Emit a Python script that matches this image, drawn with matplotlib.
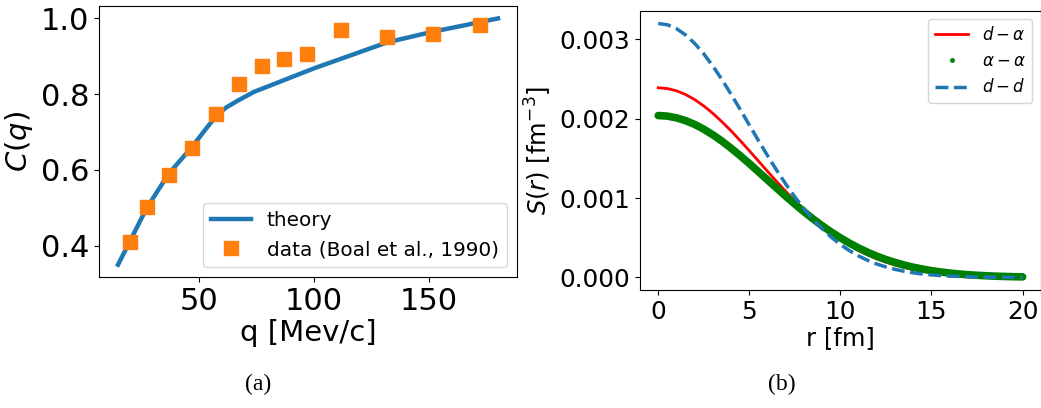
import matplotlib
matplotlib.use("Agg")
import matplotlib.pyplot as plt
import numpy as np

# (a) correlation function
q_theory = [15, 20, 27.5, 37, 47, 54, 58, 62, 67, 74, 100, 132, 151, 180]
c_theory = [0.35, 0.41, 0.50, 0.59, 0.66, 0.715, 0.745, 0.765, 0.783, 0.806, 0.868, 0.937, 0.964, 1.0]
q_data = [20, 27.5, 37, 47, 57.5, 67.5, 77.5, 87, 97, 112, 132, 152, 172]
c_data = [0.409, 0.503, 0.588, 0.659, 0.748, 0.826, 0.874, 0.892, 0.907, 0.970, 0.951, 0.960, 0.982]

# (b) source functions, units of 1e-3 fm^-3, sampled every 0.5 fm
r = np.arange(0, 20.5, 0.5)
s_d_alpha = [2.390, 2.380, 2.352, 2.305, 2.241, 2.161, 2.067, 1.961, 1.847, 1.724, 1.597,
             1.467, 1.337, 1.209, 1.084, 0.965, 0.851, 0.745, 0.647, 0.557, 0.476,
             0.404, 0.339, 0.283, 0.234, 0.192, 0.157, 0.126, 0.101, 0.0805, 0.0634,
             0.0496, 0.0385, 0.0296, 0.0226, 0.0171, 0.0128, 0.0096, 0.0071, 0.0052, 0.0038]
s_alpha_alpha = [2.040, 2.033, 2.011, 1.976, 1.928, 1.868, 1.797, 1.717, 1.628, 1.534, 1.435,
                 1.332, 1.229, 1.125, 1.023, 0.924, 0.828, 0.737, 0.652, 0.572, 0.499,
                 0.432, 0.371, 0.317, 0.268, 0.226, 0.189, 0.157, 0.129, 0.106, 0.0857,
                 0.0692, 0.0554, 0.0441, 0.0348, 0.0273, 0.0213, 0.0165, 0.0126, 0.0096, 0.0073]
s_d_d = [3.200, 3.184, 3.135, 3.056, 2.949, 2.817, 2.663, 2.492, 2.308, 2.117, 1.921,
         1.726, 1.535, 1.351, 1.177, 1.015, 0.867, 0.733, 0.613, 0.507, 0.416,
         0.337, 0.271, 0.215, 0.169, 0.132, 0.102, 0.0777, 0.0586, 0.0438, 0.0324,
         0.0238, 0.0172, 0.0124, 0.0088, 0.0062, 0.0043, 0.0030, 0.0020, 0.0014, 0.0009]

fig = plt.figure(figsize=(10.41, 4.08), dpi=100)

ax1 = fig.add_axes([0.0951, 0.321, 0.4015, 0.664])
ax1.plot(q_theory, c_theory, color="tab:blue", lw=3.2, label="theory")
ax1.plot(q_data, c_data, "s", color="tab:orange", ms=9.5, label="data (Boal et al., 1990)")
ax1.set_xticks([50, 100, 150])
ax1.set_yticks([0.4, 0.6, 0.8, 1.0])
ax1.tick_params(labelsize=22)
ax1.set_xlabel("q [Mev/c]", fontsize=21, labelpad=2)
ax1.set_ylabel("$C(q)$", fontsize=21, labelpad=4)
ax1.legend(loc="lower right", fontsize=14.4)

ax2 = fig.add_axes([0.6148, 0.289, 0.385, 0.6846])
s_da = np.array(s_d_alpha) * 1e-3
s_aa = np.array(s_alpha_alpha) * 1e-3
s_dd = np.array(s_d_d) * 1e-3
ax2.plot(r, s_da, color="red", lw=2, label=r"$d-\alpha$")
ax2.plot(r, s_aa, color="green", lw=5.5, solid_capstyle="round")
ax2.plot(r, s_aa, ".", color="green", ms=5, label=r"$\alpha-\alpha$")
ax2.plot(r, s_dd, "--", color="tab:blue", lw=2.5, label=r"$d-d$")
ax2.set_xticks([0, 5, 10, 15, 20])
ax2.set_yticks([0.0, 0.001, 0.002, 0.003])
ax2.tick_params(labelsize=17.8)
ax2.set_xlabel("r [fm]", fontsize=17.5, labelpad=2)
ax2.set_ylabel(r"$S(r)$ [fm$^{-3}$]", fontsize=17.5)
ax2.legend(loc="upper right", fontsize=12)

fig.text(0.248, 0.058, "(a)", fontsize=17, family="Liberation Serif", ha="center", va="center")
fig.text(0.751, 0.058, "(b)", fontsize=17, family="Liberation Serif", ha="center", va="center")

fig.savefig("out.png", dpi=100)
